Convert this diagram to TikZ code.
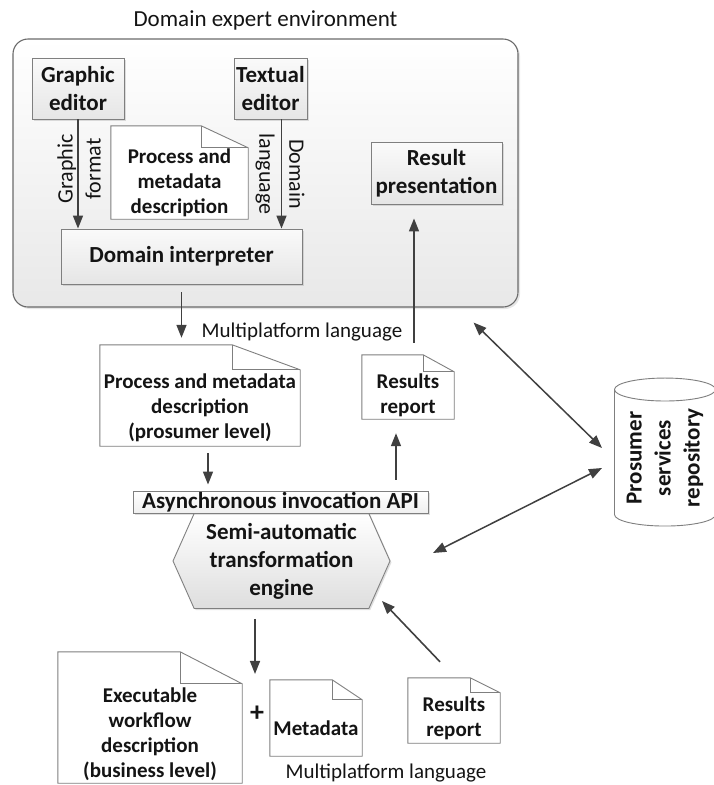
\documentclass[tikz,border=0pt]{standalone}
\usepackage{fontspec}
\setmainfont{Carlito}
\usetikzlibrary{arrows.meta,shapes.geometric,shapes.symbols,shadows}

\definecolor{boxline}{HTML}{7F7F7F}
\definecolor{envline}{HTML}{6A6A6A}
\definecolor{arrowc}{HTML}{404040}
\definecolor{txt}{HTML}{141414}

\tikzset{
  bfont/.style={font=\bfseries\fontsize{23}{28}\selectfont},
  dfont/.style={font=\bfseries\fontsize{21}{25}\selectfont},
  rfont/.style={font=\fontsize{21}{25}\selectfont},
  softshadow/.style={drop shadow={shadow xshift=1.5pt,shadow yshift=-1.5pt,opacity=0.25}},
  procbox/.style={draw=boxline, line width=0.9pt, top color=black!2, bottom color=black!10,
    softshadow, inner sep=0pt, align=center, bfont, text=txt},
  docbox/.style={inner sep=0pt},
  docline/.style={draw=boxline, line width=0.9pt, fill=white},
  doctext/.style={align=center, inner sep=0pt, dfont, text=txt},
  arr/.style={draw=arrowc, line width=1.6pt, -{Triangle[length=13pt,width=10pt]}},
  darr/.style={draw=arrowc, line width=1.5pt,
    {Triangle[length=13pt,width=10pt]}-{Triangle[length=13pt,width=10pt]}},
}

% dog-eared document outline around an empty node: name, fold width, fold height
\newcommand\docfold[3]{%
  \draw[docline] (#1.north west) -- ([xshift=-#2pt]#1.north east)
    -- ([yshift=-#3pt]#1.north east) -- (#1.south east) -- (#1.south west) -- cycle;
  \draw[docline, fill=none] ([xshift=-#2pt]#1.north east) |- ([yshift=-#3pt]#1.north east);
}

\begin{document}
\begin{tikzpicture}[x=1pt, y=-1pt]
\useasboundingbox (0,0) rectangle (714,785);

% domain expert environment
\node[draw=envline, line width=1.1pt, rounded corners=15pt, top color=white, bottom color=black!9,
  drop shadow={shadow xshift=2pt,shadow yshift=-2pt,opacity=0.2},
  minimum width=505pt, minimum height=268pt] (env) at (265.5,173) {};
\node[font=\fontsize{23}{27}\selectfont, text=txt] (envtitle) at (265.5,20) {Domain expert environment};

\node[procbox, minimum width=92pt, minimum height=61pt] (ged) at (78,88.5) {Graphic\\editor};
\node[procbox, minimum width=73pt, minimum height=61pt] (ted) at (270.5,88.5) {Textual\\editor};
\node[procbox, minimum width=241pt, minimum height=55pt] (interp) at (181.5,256.5) {Domain interpreter};
\node[procbox, minimum width=131pt, minimum height=62pt] (respres) at (436.5,173) {Result\\presentation};

\node[docbox, minimum width=137pt, minimum height=93pt] (pdesc) at (179.5,172.5) {};
\docfold{pdesc}{47}{22}
\node[doctext] (pdesc-txt) at ([yshift=-10pt]pdesc.center) {Process and\\metadata\\description};

\draw[arr] (ged.south) -- (ged.south |- interp.north);
\draw[arr] ([xshift=11pt]ted.south) -- ([xshift=11pt]ted.south |- interp.north);
\node[rotate=90, align=center, font=\fontsize{22}{28}\selectfont, text=txt] (glabel) at (79,169) {Graphic\\format};
\node[rotate=-90, align=center, font=\fontsize{22}{30}\selectfont, text=txt] (dlabel) at (280,174) {Domain\\language};

% prosumer level
\node[rfont, text=txt, inner sep=0pt] (mpl1) at (302,332) {Multiplatform language};

\node[docbox, minimum width=200pt, minimum height=101pt] (pdoc) at (200,395.5) {};
\docfold{pdoc}{68}{25}
\node[doctext] (pdoc-txt) at ([yshift=-12pt]pdoc.center) {Process and metadata\\description\\(prosumer level)};

\node[docbox, minimum width=92pt, minimum height=64pt] (rrep1) at (408,387) {};
\docfold{rrep1}{31}{17}
\node[doctext] (rrep1-txt) at ([yshift=-8pt]rrep1.center) {Results\\report};

% transformation engine
\node[signal, signal to=east and west, signal pointer angle=132, draw=boxline, line width=0.9pt,
  top color=white, bottom color=black!13, softshadow, minimum width=217pt, minimum height=95pt,
  inner sep=0pt, align=center, font=\bfseries\fontsize{23}{28}\selectfont, text=txt]
  (engine) at (281.5,561) {Semi-automatic\\transformation\\engine};
\node[procbox, top color=white, bottom color=black!6, minimum width=295pt, minimum height=22pt]
  (api) at (280.5,502) {Asynchronous invocation API};

% repository
\node[cylinder, rotate=90, draw=boxline, line width=0.9pt, fill=white, aspect=0.3,
  minimum width=101pt, minimum height=148pt, inner sep=0pt, align=center,
  font=\bfseries\fontsize{23}{29}\selectfont, text=txt] (repo) at (665,458) {Prosumer\\services\\repository};

% business level
\node[docbox, minimum width=184pt, minimum height=131pt] (exec) at (150,717.5) {};
\docfold{exec}{62}{32}
\node[doctext] (exec-txt) at ([yshift=-17pt]exec.center) {Executable\\workflow\\description\\(business level)};

\node[font=\bfseries\fontsize{28}{30}\selectfont, text=txt] (plus) at (257,714) {+};

\node[docbox, minimum width=92pt, minimum height=76pt] (meta) at (316,718) {};
\docfold{meta}{30}{20}
\node[doctext] (meta-txt) at ([yshift=-10pt]meta.center) {Metadata};

\node[docbox, minimum width=92pt, minimum height=65pt] (rrep2) at (454,710.5) {};
\docfold{rrep2}{30}{15}
\node[doctext] (rrep2-txt) at ([yshift=-8pt]rrep2.center) {Results\\report};

\node[rfont, text=txt, inner sep=0pt] (mpl2) at (386,773) {Multiplatform language};

% connectors
\draw[arr, shorten <=8pt, shorten >=7pt] (interp.south) -- (interp.south |- pdoc.north);
\draw[arr, shorten <=7pt, shorten >=6pt] ([xshift=8pt]pdoc.south) -- ([xshift=8pt]pdoc.south |- api.north);
\draw[arr, shorten <=12pt, shorten >=14pt] ([xshift=6pt]rrep1.north) -- ([xshift=6pt]rrep1.north |- respres.south);
\draw[arr, shorten <=11pt, shorten >=14pt] ([xshift=-12pt]rrep1.south |- api.north) -- ([xshift=-12pt]rrep1.south);

\coordinate (envport) at ([xshift=-45pt,yshift=-15pt]env.south east);
\coordinate (repoin) at ([xshift=-63pt,yshift=10pt]repo.center);
\coordinate (repoout) at ([xshift=-63pt,yshift=-10pt]repo.center);
\coordinate (engport) at ([xshift=151.5pt,yshift=8pt]engine.center);
\draw[darr] (envport) -- (repoin);
\draw[darr] (engport) -- (repoout);

\coordinate (engout) at ([xshift=-26.5pt,yshift=-10pt]engine.south);
\coordinate (bizin) at ([xshift=-26.5pt,yshift=-65pt]engine.south);
\draw[arr] (engout) -- (bizin);

\coordinate (repfrom) at ([xshift=-14pt,yshift=16pt]rrep2.north);
\coordinate (engin) at ([xshift=100.5pt,yshift=-40pt]engine.center);
\draw[arr] (repfrom) -- (engin);
\end{tikzpicture}
\end{document}
